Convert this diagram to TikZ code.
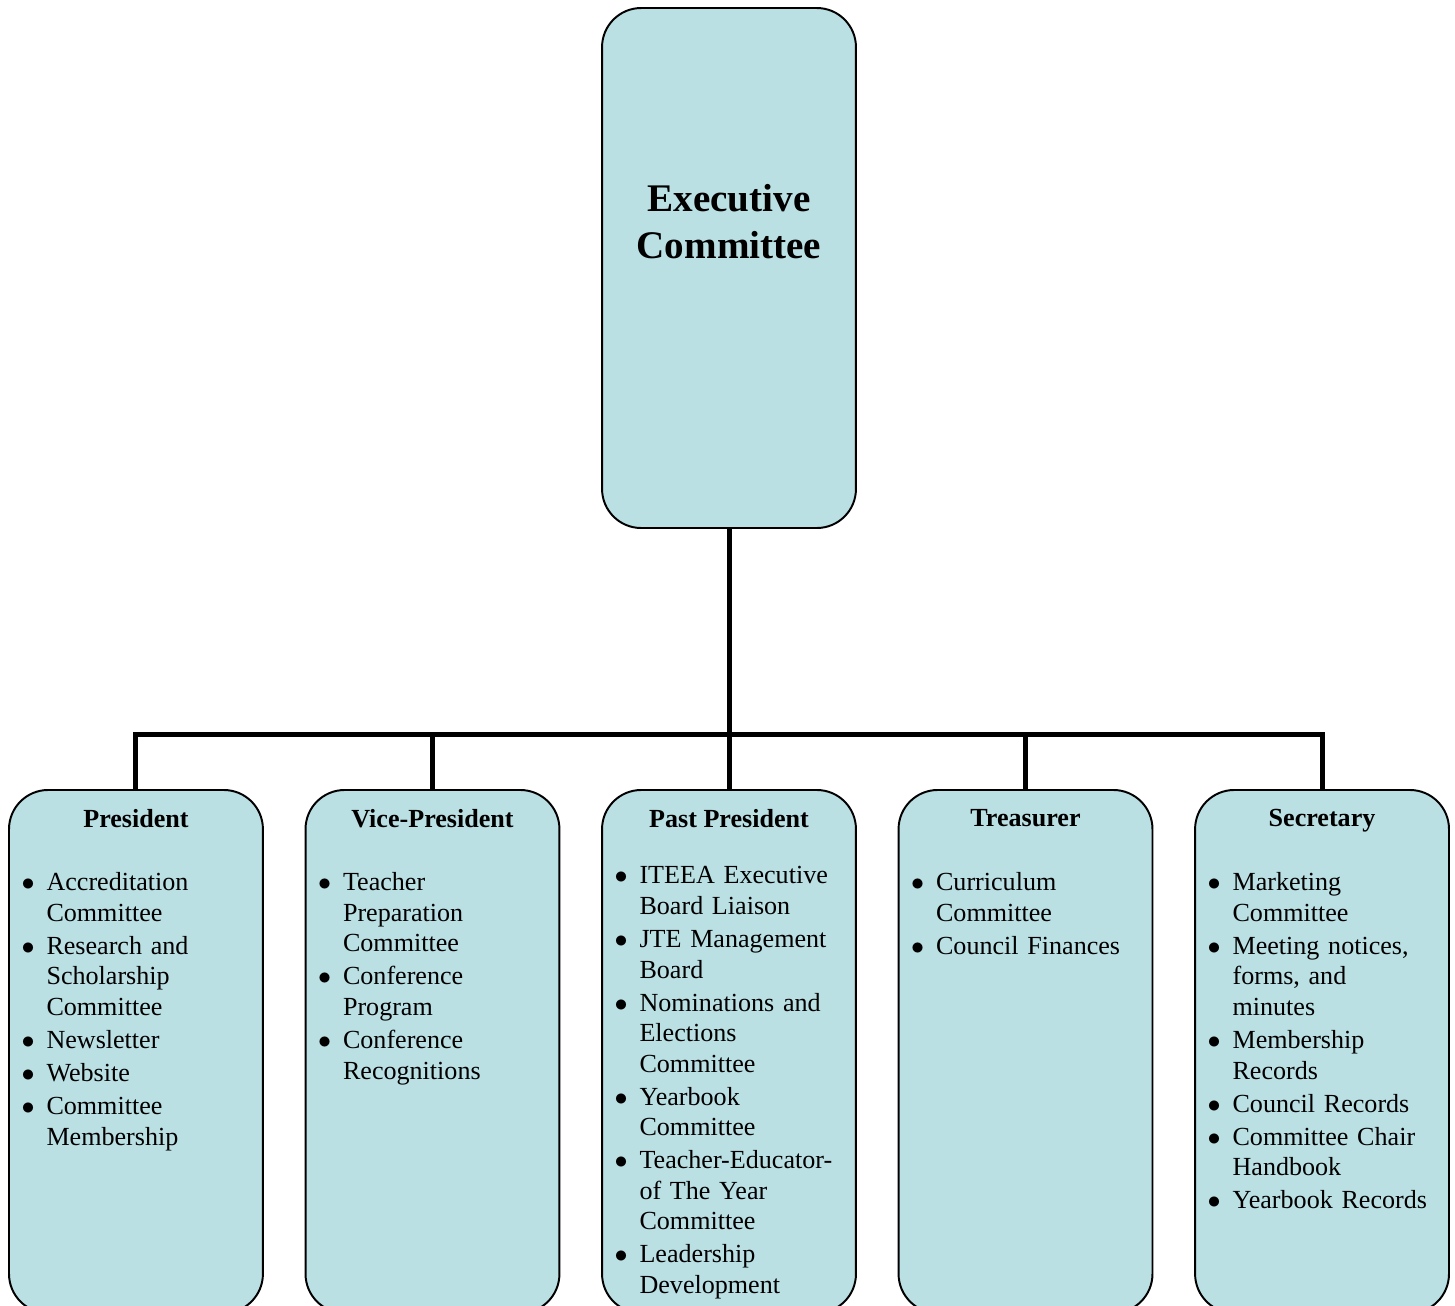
\documentclass[tikz,border=0pt]{standalone}
\usepackage{fontspec}
\setmainfont{Liberation Serif}
\usepackage{enumitem}
\usetikzlibrary{positioning}
\definecolor{boxblue}{RGB}{186,224,228}
\setlist[itemize]{label=$\bullet$, leftmargin=17.5pt, labelsep=5.5pt, itemsep=1.15pt, topsep=0pt, parsep=0pt, partopsep=0pt}
\tikzstyle{office} = [rectangle, rounded corners=18pt, minimum width=116.8pt, draw=black, line width=0.9pt, fill=boxblue]
\tikzstyle{member} = [office, minimum height=240.6pt]
\tikzstyle{head}   = [inner sep=0pt, font=\bfseries\fontsize{12}{14}\selectfont]
\tikzstyle{duties} = [inner sep=0pt, text width=116.8pt, align=left, font=\fontsize{12}{14.05}\selectfont]
\tikzstyle{link}   = [line width=2.3pt, black]

\begin{document}
\begin{tikzpicture}[x=0.46pt, y=-0.46pt, node distance=136.4pt]
        \clip (0,0) rectangle (1455,1305);
        % executive box
        \node (exec) [office, minimum height=239.2pt] at (729,268) {};
        \node (exectitle) [head, font=\bfseries\fontsize{18}{21.6}\selectfont, align=center, below=81.4pt of exec.north] {Executive\\Committee};

        % officer boxes
        \node (past)  [member, anchor=north] at (729,789) {};
        \node (vp)    [member, left of=past]  {};
        \node (pres)  [member, left of=vp]    {};
        \node (treas) [member, right of=past] {};
        \node (sec)   [member, right of=treas] {};

        \node (prestitle)  [head, below=9.3pt of pres.north]  {President};
        \node (vptitle)    [head, below=9.3pt of vp.north]    {Vice-President};
        \node (pasttitle)  [head, below=9.3pt of past.north]  {Past President};
        \node (treastitle) [head, below=9.3pt of treas.north] {Treasurer};
        \node (sectitle)   [head, below=9.3pt of sec.north]   {Secretary};

        \node (preslist) [duties, below=32.6pt of pres.north west, anchor=north west] {%
            \begin{itemize}
                \item Accreditation\newline Committee
                \item Research and\newline Scholarship\newline Committee
                \item Newsletter
                \item Website
                \item Committee\newline Membership
            \end{itemize}};
        \node (vplist) [duties, below=32.6pt of vp.north west, anchor=north west] {%
            \begin{itemize}
                \item Teacher\newline Preparation\newline Committee
                \item Conference\newline Program
                \item Conference\newline Recognitions
            \end{itemize}};
        \node (pastlist) [duties, below=29.4pt of past.north west, anchor=north west] {%
            \begin{itemize}
                \item ITEEA Executive\newline Board Liaison
                \item JTE Management\newline Board
                \item Nominations and\newline Elections\newline Committee
                \item Yearbook\newline Committee
                \item Teacher-Educator-\newline of The Year\newline Committee
                \item Leadership\newline Development
            \end{itemize}};
        \node (treaslist) [duties, below=32.6pt of treas.north west, anchor=north west] {%
            \begin{itemize}
                \item Curriculum\newline Committee
                \item Council Finances
            \end{itemize}};
        \node (seclist) [duties, below=32.6pt of sec.north west, anchor=north west] {%
            \begin{itemize}
                \item Marketing\newline Committee
                \item Meeting notices,\newline forms, and\newline minutes
                \item Membership\newline Records
                \item Council Records
                \item Committee Chair\newline Handbook
                \item Yearbook Records
            \end{itemize}};

        % connectors
        \draw [link] (exec.south) -- ++(0,206) coordinate (hub);
        \foreach \n in {pres,vp,past,treas,sec}
            \draw [link] (hub) -| (\n.north);
    \end{tikzpicture}
\end{document}
